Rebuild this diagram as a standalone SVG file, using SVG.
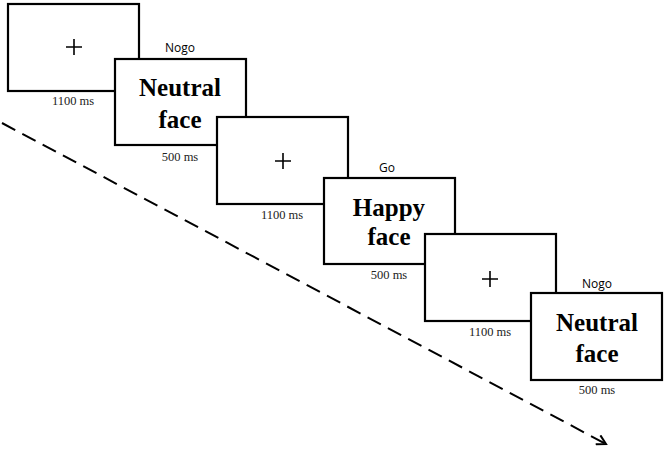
<svg xmlns="http://www.w3.org/2000/svg" width="666" height="450" viewBox="0 0 666 450">
<style>
.box{fill:#fff;stroke:#000;stroke-width:2.2}
.plus{stroke:#000;stroke-width:1.6}
.big{font-family:"Liberation Serif",serif;font-weight:bold;font-size:25px;text-anchor:middle;fill:#000}
.ms{font-family:"Liberation Serif",serif;font-size:12.5px;text-anchor:middle;fill:#222}
.cue{font-family:"Open Sans","DejaVu Sans",sans-serif;font-size:12px;text-anchor:middle;fill:#000}
</style>
<defs>
<marker id="ah" markerWidth="12" markerHeight="12" refX="10" refY="6" orient="auto" markerUnits="userSpaceOnUse">
<path d="M1,1 L10,6 L1,11" fill="none" stroke="#000" stroke-width="2"/>
</marker>
</defs>
<g id="connectors">
<line x1="2" y1="123" x2="606" y2="444" stroke="#000" stroke-width="2" stroke-dasharray="15,8" marker-end="url(#ah)"/>
</g>
<g id="fix1">
<rect class="box" x="8" y="4" width="131" height="87"/>
<path class="plus" d="M66,47 H82 M74,39 V55"/>
<text class="ms" x="73" y="105">1100 ms</text>
</g>
<g id="face1">
<text class="cue" x="180" y="52">Nogo</text>
<rect class="box" x="115" y="59" width="131" height="86"/>
<text class="big" x="180" y="96">Neutral</text>
<text class="big" x="180" y="128">face</text>
<text class="ms" x="180" y="161">500 ms</text>
</g>
<g id="fix2">
<rect class="box" x="217" y="117" width="131" height="87"/>
<path class="plus" d="M275,161 H291 M283,153 V169"/>
<text class="ms" x="282" y="219">1100 ms</text>
</g>
<g id="face2">
<text class="cue" x="387" y="172">Go</text>
<rect class="box" x="324" y="178" width="131" height="86"/>
<text class="big" x="389" y="216">Happy</text>
<text class="big" x="389" y="245">face</text>
<text class="ms" x="389" y="279">500 ms</text>
</g>
<g id="fix3">
<rect class="box" x="425" y="234" width="131" height="87"/>
<path class="plus" d="M482,279 H498 M490,271 V287"/>
<text class="ms" x="490" y="336">1100 ms</text>
</g>
<g id="face3">
<text class="cue" x="597" y="288">Nogo</text>
<rect class="box" x="531" y="293" width="131" height="87"/>
<text class="big" x="597" y="331">Neutral</text>
<text class="big" x="597" y="362">face</text>
<text class="ms" x="597" y="394">500 ms</text>
</g>
</svg>
